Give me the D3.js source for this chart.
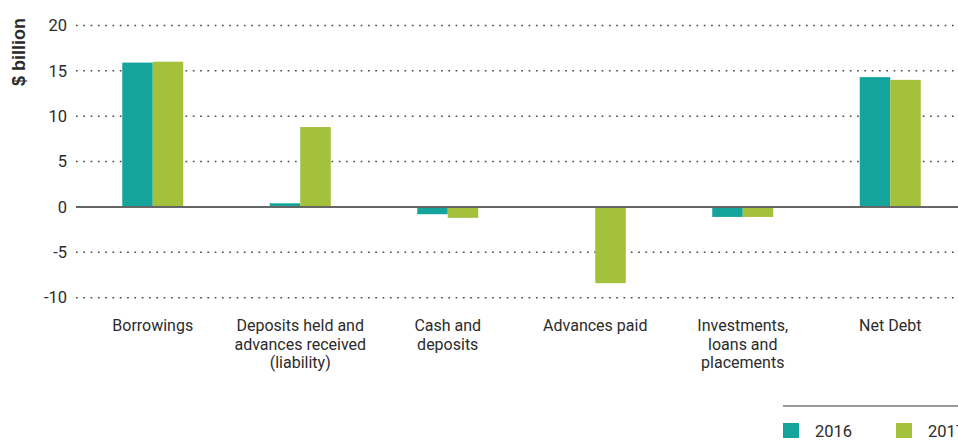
<!DOCTYPE html>
<html>
<head>
<meta charset="utf-8">
<script src="https://cdn.jsdelivr.net/npm/d3@7"></script>
<style>
  html, body { margin: 0; padding: 0; background: #fff; }
  svg { display: block; }
  text { font-family: "Liberation Sans Narrow", "Roboto", sans-serif; fill: #2b2b2b; }
</style>
</head>
<body>
<svg id="chart" width="958" height="440"></svg>
<script>
// Balance sheet items, $ billion
const categories = [
  ["Borrowings"],
  ["Deposits held and", "advances received", "(liability)"],
  ["Cash and", "deposits"],
  ["Advances paid"],
  ["Investments,", "loans and", "placements"],
  ["Net Debt"]
];
const seriesNames = ["2016", "2017"];
const values2016 = [15.9, 0.4, -0.8, -0.1, -1.1, 14.3];
const values2017 = [16.0, 8.8, -1.2, -8.4, -1.1, 14.0];
const yTicks = [20, 15, 10, 5, 0, -5, -10];
const colors = ["#14a49b", "#a3c13a"];

const svg = d3.select("#chart");
const W = 958;

const y = d3.scaleLinear().domain([-10, 20]).range([297.7, 25.4]);
const x0 = d3.scaleBand().domain(d3.range(categories.length)).range([79, 964]).padding(0);
const x1 = d3.scaleBand().domain(seriesNames).range([0, 61]);

// dotted gridlines
const grid = svg.append("g");
grid.selectAll("line").data(yTicks.filter(d => d !== 0)).join("line")
  .attr("x1", 76).attr("x2", W)
  .attr("y1", d => y(d)).attr("y2", d => y(d))
  .attr("stroke", "#4a4a4a").attr("stroke-width", 1.5)
  .attr("stroke-dasharray", "1.7,5.6");

// tick labels
svg.append("g").selectAll("text").data(yTicks).join("text")
  .attr("x", 67).attr("y", d => y(d))
  .attr("dy", "0.35em").attr("text-anchor", "end")
  .style("font-size", "16.5px")
  .text(d => d);

// axis title
svg.append("text")
  .attr("transform", "translate(25,18) rotate(-90)")
  .attr("text-anchor", "end")
  .style("font-size", "18px").style("font-weight", "bold")
  .style("font-family", "'Liberation Sans', sans-serif")
  .text("$ billion");

// bars
const rows = categories.map((c, i) => [values2016[i], values2017[i]]);
const groups = svg.append("g").selectAll("g").data(rows).join("g")
  .attr("transform", (d, i) => `translate(${x0(i) + x0.bandwidth() / 2 - 30.5},0)`);
groups.selectAll("rect").data(d => d.map((v, k) => ({ v, k }))).join("rect")
  .attr("x", d => x1(seriesNames[d.k]))
  .attr("width", x1.bandwidth())
  .attr("y", d => y(Math.max(0, d.v)))
  .attr("height", d => Math.abs(y(d.v) - y(0)))
  .attr("fill", d => colors[d.k]);

// zero line
svg.append("line")
  .attr("x1", 76).attr("x2", W).attr("y1", y(0)).attr("y2", y(0))
  .attr("stroke", "#666").attr("stroke-width", 2);

// category labels
const labels = svg.append("g").selectAll("text").data(categories).join("text")
  .attr("x", (d, i) => x0(i) + x0.bandwidth() / 2)
  .attr("y", 331)
  .attr("text-anchor", "middle")
  .style("font-size", "16px");
labels.selectAll("tspan").data(d => d).join("tspan")
  .attr("x", function () { return this.parentNode.getAttribute("x"); })
  .attr("dy", (d, j) => j === 0 ? 0 : 18.5)
  .text(d => d);

// legend
svg.append("line").attr("x1", 783).attr("x2", W).attr("y1", 406).attr("y2", 406)
  .attr("stroke", "#333").attr("stroke-width", 1);
const leg = svg.append("g").selectAll("g").data(seriesNames).join("g")
  .attr("transform", (d, i) => `translate(${783 + i * 113},423)`);
leg.append("rect").attr("width", 16).attr("height", 15).attr("fill", (d, i) => colors[i]);
leg.append("text").attr("x", 32).attr("y", 8).attr("dy", "0.35em")
  .style("font-size", "16.5px").text(d => d);
</script>
</body>
</html>
